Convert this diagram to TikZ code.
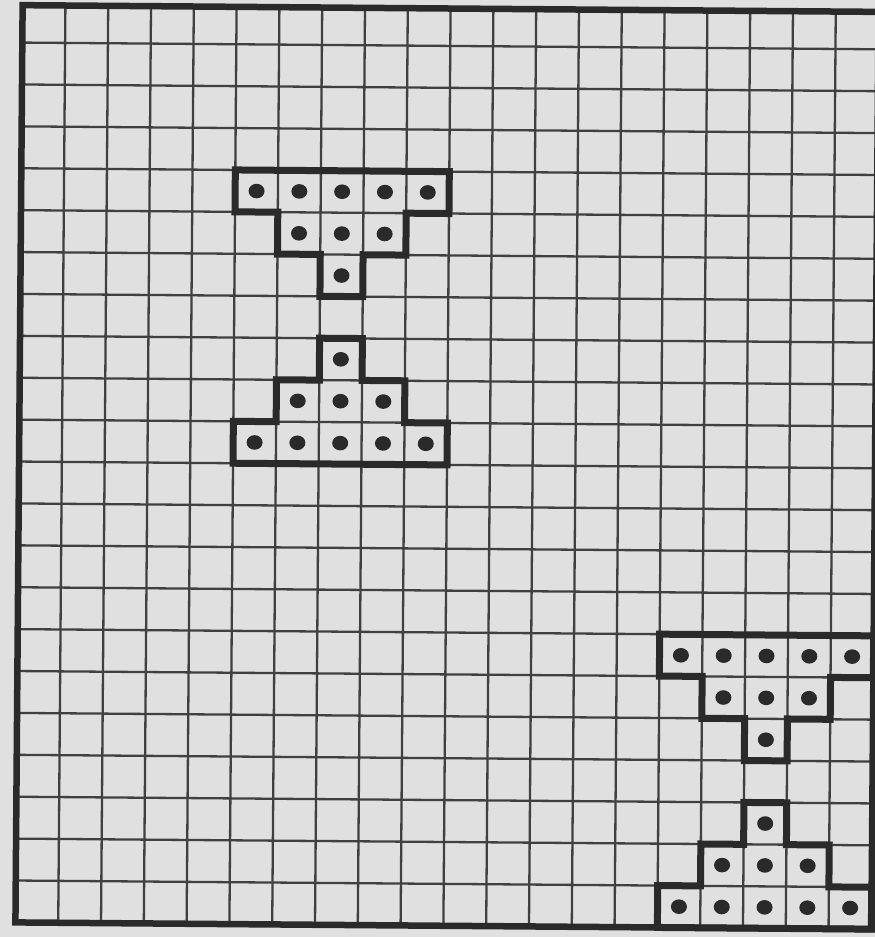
\documentclass[tikz,border=0pt]{standalone}
\definecolor{paper}{RGB}{224,224,224}
\definecolor{ink}{RGB}{42,42,42}
\definecolor{gridc}{RGB}{64,64,64}
\tikzset{
  gridline/.style={draw=gridc, line width=2.3pt},
  frameline/.style={draw=ink, line width=6.5pt, line join=miter},
  shapeline/.style={draw=ink, line width=7pt, line join=miter},
  dotfill/.style={fill=ink}
}
\newcommand\hourglass[2]{%
  \begin{scope}[shift={(#1,#2)}]
    \draw[shapeline] (0,0) -- (5,0) -- (5,1) -- (4,1) -- (4,2) -- (3,2) -- (3,3)
      -- (2,3) -- (2,2) -- (1,2) -- (1,1) -- (0,1) -- cycle;
    \draw[shapeline] (2,4) -- (3,4) -- (3,5) -- (4,5) -- (4,6) -- (5,6) -- (5,7)
      -- (0,7) -- (0,6) -- (1,6) -- (1,5) -- (2,5) -- cycle;
    \foreach \c in {0,...,4} {
      \fill[dotfill] (\c+0.5,0.5) ellipse[x radius=8pt, y radius=7.3pt];
      \fill[dotfill] (\c+0.5,6.5) ellipse[x radius=8pt, y radius=7.3pt];
    }
    \foreach \c in {1,2,3} {
      \fill[dotfill] (\c+0.5,1.5) ellipse[x radius=8pt, y radius=7.3pt];
      \fill[dotfill] (\c+0.5,5.5) ellipse[x radius=8pt, y radius=7.3pt];
    }
    \fill[dotfill] (2.5,2.5) ellipse[x radius=8pt, y radius=7.3pt];
    \fill[dotfill] (2.5,4.5) ellipse[x radius=8pt, y radius=7.3pt];
  \end{scope}%
}
\begin{document}
\begin{tikzpicture}[x=1pt,y=-1pt]
  \fill[paper] (0,0) rectangle (875,937);
  \useasboundingbox (0,0) rectangle (875,937);
  \begin{scope}[rotate around={-0.45:(447,466)}, shift={(19,4.0)}, x=42.8pt, y=-41.9pt]
    % grid
    \foreach \c in {1,...,19}
      \draw[gridline] (\c,0.107) -- (\c,22);
    \foreach \r in {1,...,21}
      \draw[gridline] (0,\r) -- (20,\r);
    % outer frame
    \draw[frameline] (0,0.107) rectangle (20,22);
    % shapes
    \hourglass{5}{4}
    \hourglass{15}{15}
  \end{scope}
\end{tikzpicture}
\end{document}
